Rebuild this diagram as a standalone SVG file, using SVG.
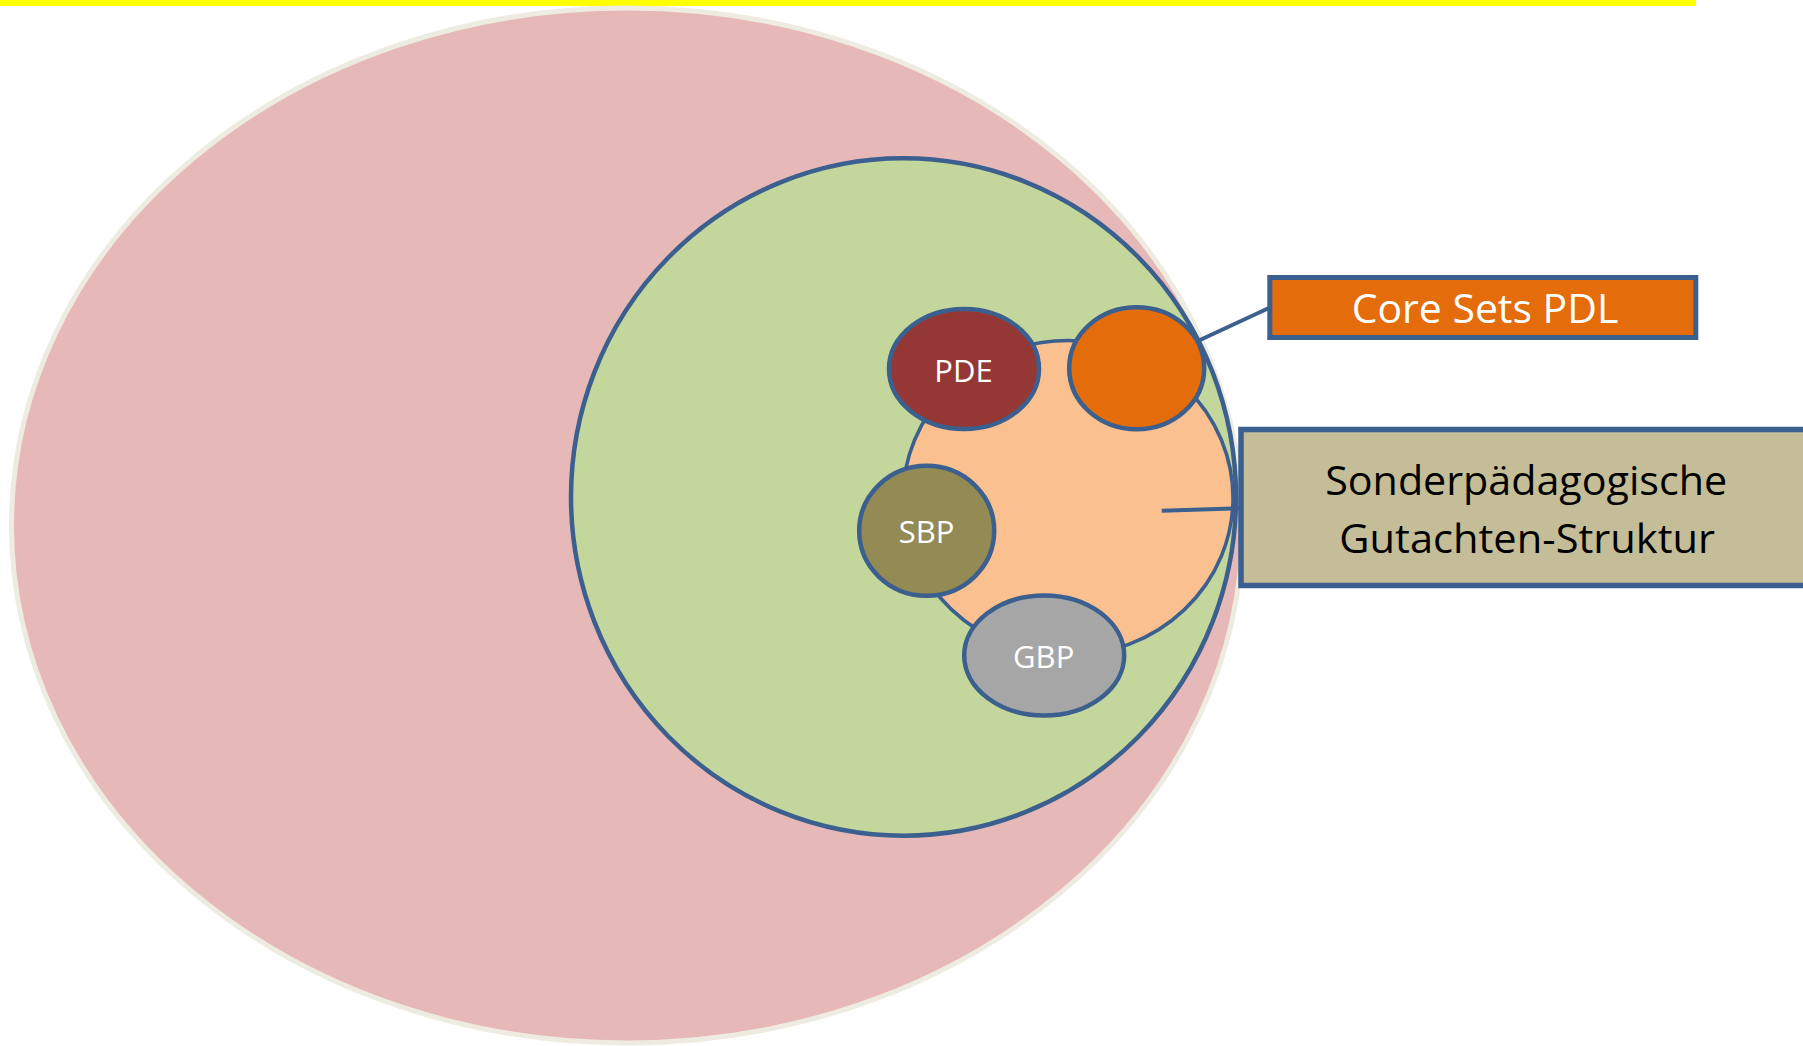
<svg xmlns="http://www.w3.org/2000/svg" width="1803" height="1046" viewBox="0 0 1803 1046">
  <style>
    .ol { stroke: #3B5F8E; }
    .lbl { font-family: "Open Sans", "Noto Sans", sans-serif; fill: #FFFFFF; text-anchor: middle; }
    .big { font-family: "Open Sans", "Noto Sans", sans-serif; text-anchor: middle; }
    .conn { stroke: #3B5F8E; stroke-width: 4; fill: none; }
  </style>
  <rect x="0" y="0" width="1803" height="1046" fill="#FFFFFF"/>
  <rect x="0" y="0" width="1696" height="6" fill="#FFFF00"/>

  <g id="outer-ellipse">
    <ellipse cx="627" cy="525.5" rx="615.5" ry="517.5" fill="#E6B8B7" stroke="#EEECE1" stroke-width="5"/>
  </g>
  <g id="green-circle">
    <ellipse cx="903.5" cy="497" rx="332.5" ry="338.7" fill="#C3D69B" class="ol" stroke-width="4.5"/>
  </g>
  <g id="peach-circle">
    <ellipse cx="1068" cy="498" rx="165" ry="157.5" fill="#FAC090" class="ol" stroke-width="3.5"/>
  </g>
  <g id="pde">
    <ellipse cx="964" cy="369" rx="75" ry="60" fill="#953735" class="ol" stroke-width="4.5"/>
    <text x="963.5" y="381.5" class="lbl" font-size="31">PDE</text>
  </g>
  <g id="core-circle">
    <ellipse cx="1136.7" cy="368.3" rx="67.5" ry="61" fill="#E46C0A" class="ol" stroke-width="4.5"/>
  </g>
  <g id="sbp">
    <ellipse cx="926.7" cy="530.8" rx="67.5" ry="65" fill="#948A54" class="ol" stroke-width="4.5"/>
    <text x="926.7" y="542.7" class="lbl" font-size="31">SBP</text>
  </g>
  <g id="gbp">
    <ellipse cx="1044.2" cy="655.5" rx="80" ry="60" fill="#A6A6A6" class="ol" stroke-width="4.5"/>
    <text x="1043.7" y="668.3" class="lbl" font-size="31">GBP</text>
  </g>

  <g id="connectors">
    <line x1="1200" y1="340" x2="1270" y2="307.5" class="conn"/>
    <line x1="1161.7" y1="510.7" x2="1241" y2="508.3" class="conn"/>
  </g>

  <g id="core-sets-box">
    <rect x="1269.8" y="277.5" width="426" height="60" fill="#E46C0A" class="ol" stroke-width="5"/>
    <text x="1485" y="323.3" class="big" fill="#FFFFFF" font-size="41" textLength="266.7" lengthAdjust="spacingAndGlyphs">Core Sets PDL</text>
  </g>
  <g id="gutachten-box">
    <rect x="1241" y="429.5" width="620" height="156" fill="#C4BD97" class="ol" stroke-width="5.5"/>
    <text x="1526.2" y="495" class="big" fill="#000000" font-size="41" textLength="402" lengthAdjust="spacingAndGlyphs">Sonderpädagogische</text>
    <text x="1527.2" y="552.7" class="big" fill="#000000" font-size="41" textLength="375.7" lengthAdjust="spacingAndGlyphs">Gutachten-Struktur</text>
  </g>
</svg>
